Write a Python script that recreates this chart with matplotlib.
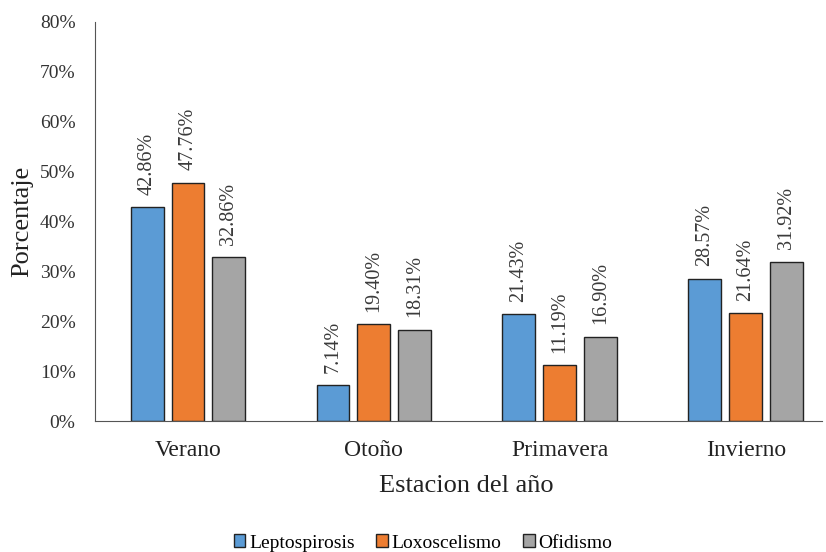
import numpy as np
import matplotlib.pyplot as plt

plt.rcParams['font.family'] = ['Liberation Serif', 'DejaVu Serif']

estaciones = ['Verano', 'Otoño', 'Primavera', 'Invierno']
leptospirosis = [42.86, 7.14, 21.43, 28.57]
loxoscelismo = [47.76, 19.40, 11.19, 21.64]
ofidismo = [32.86, 18.31, 16.90, 31.92]

series = [
    ('Leptospirosis', leptospirosis, '#5B9BD5'),
    ('Loxoscelismo', loxoscelismo, '#ED7D31'),
    ('Ofidismo', ofidismo, '#A5A5A5'),
]

fig = plt.figure(figsize=(8.26, 5.52), dpi=100)
ax = fig.add_axes([95 / 826, 1 - 421 / 552, (822 - 95) / 826, (421 - 22) / 552])

x = np.arange(len(estaciones))
ancho = 0.177
paso = 0.22

for i, (nombre, valores, color) in enumerate(series):
    pos = x + (i - 1) * paso
    barras = ax.bar(pos, valores, ancho, color=color, edgecolor='#222222',
                    linewidth=1.0, label=nombre)
    for b, v in zip(barras, valores):
        ax.annotate(f'{v:.2f}%', (b.get_x() + b.get_width() / 2, v),
                    xytext=(0, 9), textcoords='offset points',
                    rotation=90, ha='center', va='bottom',
                    fontsize=14.5, color='#3a3a3a')

ax.set_ylim(0, 80)
ax.set_xlim(-0.5, 3.41)
ax.set_yticks(np.arange(0, 81, 10))
ax.set_yticklabels([f'{t}%' for t in range(0, 81, 10)], fontsize=14, color='#333333')
ax.set_xticks(x)
ax.set_xticklabels(estaciones, fontsize=17, color='#222222')
ax.tick_params(axis='both', length=0)
ax.tick_params(axis='y', pad=14)
ax.tick_params(axis='x', pad=14)

for lado in ['top', 'right']:
    ax.spines[lado].set_visible(False)
ax.spines['left'].set_color('#555555')
ax.spines['bottom'].set_color('#555555')

ax.set_ylabel('Porcentaje', fontsize=19, color='#222222')
ax.yaxis.set_label_coords(-(95 - 33) / 727, 0.5)
ax.set_xlabel('Estacion del año', fontsize=19, color='#222222')
ax.xaxis.set_label_coords((466 - 95) / 727, -0.135)

fig.legend(loc='center', bbox_to_anchor=(423 / 826, 1 - 543 / 552), ncol=3,
           frameon=False, fontsize=14, handlelength=0.6, handleheight=0.6,
           handletextpad=0.2, columnspacing=1.1)

fig.savefig('out.png', dpi=100)
